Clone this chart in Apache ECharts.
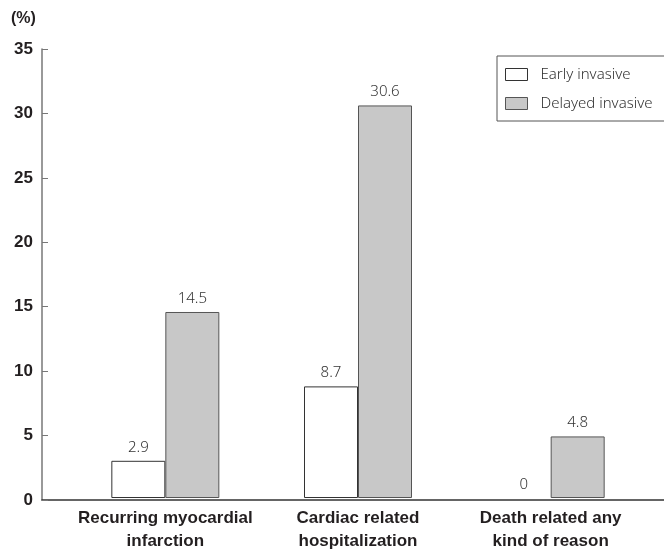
<!DOCTYPE html>
<html>
<head>
<meta charset="utf-8">
<script src="https://cdn.jsdelivr.net/npm/echarts@6/dist/echarts.min.js"></script>
<style>
  html, body { margin: 0; padding: 0; background: #fff; }
  #chart { width: 664px; height: 553px; }
</style>
</head>
<body>
<div id="chart"></div>
<script>
// 数据
const categories = [
  'Recurring myocardial\ninfarction',
  'Cardiac related\nhospitalization',
  'Death related any\nkind of reason',
]
const earlyInvasive = [2.9, 8.7, 0]
const delayedInvasive = [14.5, 30.6, 4.8]
const yTicks = { min: 0, max: 35, interval: 5 }

const chart = echarts.init(document.getElementById('chart'), null, { renderer: 'canvas' })

const labelStyle = {
  show: true,
  position: 'top',
  distance: 6,
  color: '#333',
  fontSize: 15,
  fontWeight: 300,
  fontFamily: 'Noto Sans, sans-serif',
}

// 值为 0 的柱子不画边框
const noZeroBorder = (arr) => arr.map(v => (v === 0 ? { value: v, itemStyle: { borderWidth: 0 } } : v))

chart.setOption({
  animation: false,
  backgroundColor: '#fff',
  title: {
    text: '(%)',
    left: 6,
    top: 6,
    textStyle: { fontSize: 16, fontWeight: 'bold', color: '#231f20', fontFamily: 'Liberation Sans, Arial, sans-serif' },
  },
  legend: {
    orient: 'vertical',
    left: 497,
    top: 56,
    itemWidth: 22,
    itemHeight: 12,
    itemGap: 14,
    padding: [11, 16, 10, 8],
    borderColor: '#555',
    borderWidth: 1,
    icon: 'rect',
    itemStyle: { borderWidth: 1 },
    textStyle: { fontSize: 15, fontWeight: 300, color: '#333', fontFamily: 'Noto Sans, sans-serif', padding: [0, 0, 0, 8] },
    data: ['Early invasive', 'Delayed invasive'],
  },
  grid: [
    // 坐标轴外框：y 轴 + 贯穿的 x 轴线
    { left: 42, right: 0, top: 49, bottom: 53 },
    // 柱子所在的区域
    { left: 69, right: 17, top: 49, bottom: 53 },
  ],
  xAxis: [
    {
      gridIndex: 0,
      type: 'value',
      min: 0,
      max: 1,
      axisLine: { show: true, lineStyle: { color: '#333', width: 1.5 } },
      axisTick: { show: false },
      axisLabel: { show: false },
      splitLine: { show: false },
    },
    {
      gridIndex: 1,
      type: 'category',
      data: categories,
      axisLine: { show: false },
      axisTick: { show: false },
      axisLabel: {
        margin: 9,
        interval: 0,
        color: '#231f20',
        fontSize: 17,
        fontWeight: 'bold',
        lineHeight: 23,
        fontFamily: 'Liberation Sans Narrow, Liberation Sans, Arial, sans-serif',
      },
    },
  ],
  yAxis: [
    {
      gridIndex: 0,
      type: 'value',
      min: yTicks.min,
      max: yTicks.max,
      interval: yTicks.interval,
      axisLine: { show: true, lineStyle: { color: '#777', width: 1.5 } },
      axisTick: { show: true, inside: true, length: 6, lineStyle: { color: '#777' } },
      axisLabel: {
        margin: 9,
        color: '#231f20',
        fontSize: 17,
        fontWeight: 'bold',
        fontFamily: 'Liberation Sans, Arial, sans-serif',
      },
      splitLine: { show: false },
    },
    {
      gridIndex: 1,
      type: 'value',
      min: yTicks.min,
      max: yTicks.max,
      show: false,
    },
  ],
  series: [
    {
      name: 'Early invasive',
      type: 'bar',
      xAxisIndex: 1,
      yAxisIndex: 1,
      barWidth: 54,
      barGap: '0%',
      itemStyle: { color: '#ffffff', borderColor: '#333', borderWidth: 1 },
      label: labelStyle,
      data: noZeroBorder(earlyInvasive),
    },
    {
      name: 'Delayed invasive',
      type: 'bar',
      xAxisIndex: 1,
      yAxisIndex: 1,
      barWidth: 54,
      barGap: '0%',
      itemStyle: { color: '#c8c8c8', borderColor: '#555', borderWidth: 1 },
      label: labelStyle,
      data: noZeroBorder(delayedInvasive),
    },
  ],
})
</script>
</body>
</html>
